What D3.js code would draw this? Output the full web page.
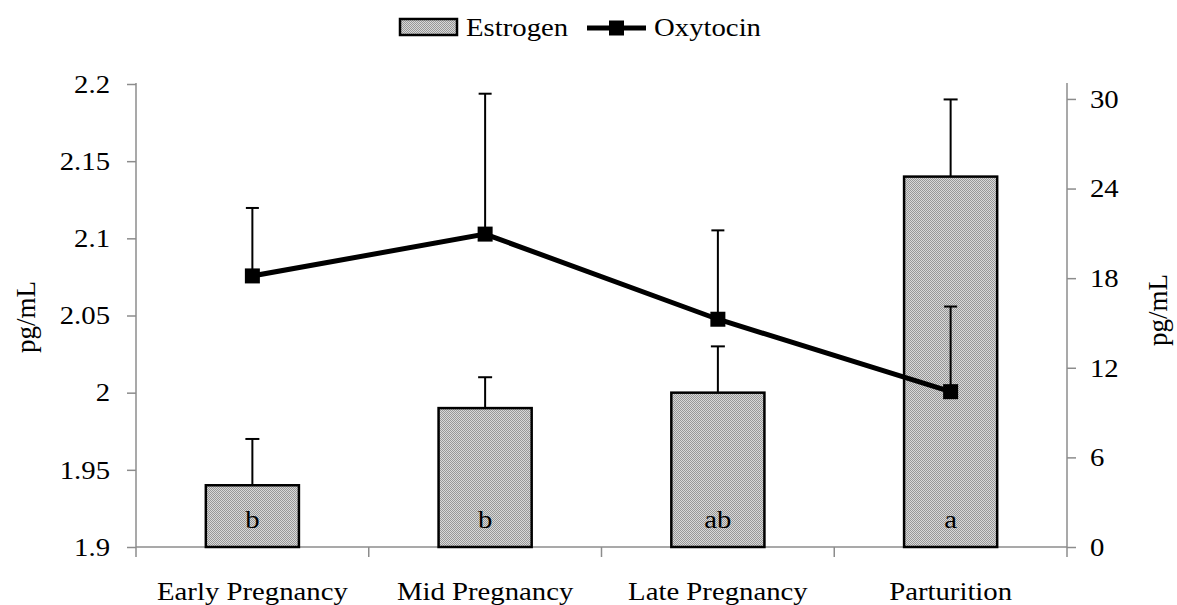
<!DOCTYPE html>
<meta charset="utf-8">
<style>
body { margin: 0; background: #fff; }
text { font-family: "Liberation Serif", "Times New Roman", serif; fill: #000; }
.axis path, .axis line { stroke: #8c8c8c; stroke-width: 1.5px; }
</style>
<body>
<svg width="1177" height="605"></svg>
<script src="https://cdn.jsdelivr.net/npm/d3@7"></script>
<script>

var stages = ["Early Pregnancy", "Mid Pregnancy", "Late Pregnancy", "Parturition"];
var estrogen = [1.94, 1.99, 2.00, 2.14];
var estrogenErr = [0.03, 0.02, 0.03, 0.05];
var oxytocin = [18.15, 20.95, 15.25, 10.4];
var oxytocinErr = [4.55, 9.4, 5.95, 5.7];
var letters = ["b", "b", "ab", "a"];
var leftTicks = [1.9, 1.95, 2, 2.05, 2.1, 2.15, 2.2];
var rightTicks = [0, 6, 12, 18, 24, 30];

var svg = d3.select("svg"),
    mLeft = 136, mRight = 1067, mTop = 84, mBottom = 547,
    sx = 1.15, fs = "25px";

var x = d3.scaleBand().domain(stages).range([mLeft, mRight]).paddingInner(0.6).paddingOuter(0.3);
var yL = d3.scaleLinear().domain([1.9, 2.2]).range([mBottom, mTop]);
var yR = d3.scaleLinear().domain([0, 31]).range([mBottom, mTop]);

// the original's type is a bit wide, so stretch text horizontally
function label(g, px, py, str, anchor) {
  return g.append("text")
      .attr("transform", "translate(" + px + "," + py + ") scale(" + sx + ",1)")
      .attr("text-anchor", anchor || "start").style("font-size", fs).text(str);
}

// dotted fill
var defs = svg.append("defs");
var pat = defs.append("pattern").attr("id", "dots")
    .attr("patternUnits", "userSpaceOnUse").attr("width", 2).attr("height", 2);
pat.append("rect").attr("width", 2).attr("height", 2).attr("fill", "#d8d8d8");
pat.append("rect").attr("width", 1).attr("height", 1).attr("fill", "#979797");
pat.append("rect").attr("x", 1).attr("y", 1).attr("width", 1).attr("height", 1).attr("fill", "#979797");

// axes
var gL = svg.append("g").attr("class", "axis").attr("transform", "translate(" + mLeft + ",0)")
    .call(d3.axisLeft(yL).tickValues(leftTicks).tickSize(9).tickSizeOuter(0).tickFormat(d3.format("")));
var gR = svg.append("g").attr("class", "axis").attr("transform", "translate(" + mRight + ",0)")
    .call(d3.axisRight(yR).tickValues(rightTicks).tickSize(9).tickSizeOuter(0));
[gL, gR].forEach(function(g) {
  g.select(".domain").attr("d", "M0," + (mTop - 1) + "V" + (mBottom + 10));
  g.selectAll(".tick text").style("font-size", fs).attr("dy", "0.33em")
      .attr("transform", "scale(" + sx + ",1)");
});
gL.selectAll(".tick text").attr("x", -26 / sx);
gR.selectAll(".tick text").attr("x", 23 / sx);

var bounds = d3.range(stages.length + 1).map(function(i) { return mLeft + i * (mRight - mLeft) / stages.length; });
var gX = svg.append("g").attr("class", "axis");
gX.append("line").attr("x1", mLeft).attr("x2", mRight).attr("y1", mBottom).attr("y2", mBottom);
gX.selectAll(".ctick").data(bounds.slice(1, -1)).enter().append("line")
    .attr("x1", d => d).attr("x2", d => d).attr("y1", mBottom).attr("y2", mBottom + 10);
stages.forEach(function(s) {
  label(svg, x(s) + x.bandwidth() / 2, 600, s, "middle");
});

// estrogen bars + error bars
var bars = svg.append("g");
stages.forEach(function(s, i) {
  var cx = x(s) + x.bandwidth() / 2, yt = yL(estrogen[i] + estrogenErr[i]);
  bars.append("line").attr("x1", cx).attr("x2", cx)
      .attr("y1", yL(estrogen[i])).attr("y2", yt)
      .attr("stroke", "#000").attr("stroke-width", 2);
  bars.append("line").attr("x1", cx - 7).attr("x2", cx + 7).attr("y1", yt).attr("y2", yt)
      .attr("stroke", "#000").attr("stroke-width", 2);
  bars.append("rect").attr("x", x(s)).attr("width", x.bandwidth())
      .attr("y", yL(estrogen[i])).attr("height", mBottom - yL(estrogen[i]))
      .attr("fill", "url(#dots)").attr("stroke", "#000").attr("stroke-width", 2.5);
  label(bars, cx, 528, letters[i], "middle");
});

// oxytocin line
var ox = svg.append("g");
stages.forEach(function(s, i) {
  var cx = x(s) + x.bandwidth() / 2, yt = yR(oxytocin[i] + oxytocinErr[i]);
  ox.append("line").attr("x1", cx).attr("x2", cx)
      .attr("y1", yR(oxytocin[i])).attr("y2", yt)
      .attr("stroke", "#000").attr("stroke-width", 2);
  ox.append("line").attr("x1", cx - 6.5).attr("x2", cx + 6.5).attr("y1", yt).attr("y2", yt)
      .attr("stroke", "#000").attr("stroke-width", 2);
});
ox.append("path").datum(oxytocin)
    .attr("d", d3.line().x((d, i) => x(stages[i]) + x.bandwidth() / 2).y(d => yR(d)))
    .attr("fill", "none").attr("stroke", "#000").attr("stroke-width", 5);
ox.selectAll(".mk").data(oxytocin).enter().append("rect")
    .attr("x", (d, i) => x(stages[i]) + x.bandwidth() / 2 - 7.5).attr("y", d => yR(d) - 7.5)
    .attr("width", 15).attr("height", 15).attr("fill", "#000");

// axis titles
svg.append("text").attr("transform", "translate(35,317) rotate(-90)")
    .attr("text-anchor", "middle").style("font-size", "27px").text("pg/mL");
svg.append("text").attr("transform", "translate(1167,310) rotate(-90)")
    .attr("text-anchor", "middle").style("font-size", "27px").text("pg/mL");

// legend
var lg = svg.append("g");
lg.append("rect").attr("x", 400).attr("y", 19).attr("width", 57).attr("height", 16)
    .attr("fill", "url(#dots)").attr("stroke", "#000").attr("stroke-width", 2.5);
label(lg, 466, 36, "Estrogen");
lg.append("line").attr("x1", 587).attr("x2", 646).attr("y1", 28).attr("y2", 28)
    .attr("stroke", "#000").attr("stroke-width", 5);
lg.append("rect").attr("x", 609).attr("y", 20.5).attr("width", 15).attr("height", 15).attr("fill", "#000");
label(lg, 654, 36, "Oxytocin");

</script>
</body>
